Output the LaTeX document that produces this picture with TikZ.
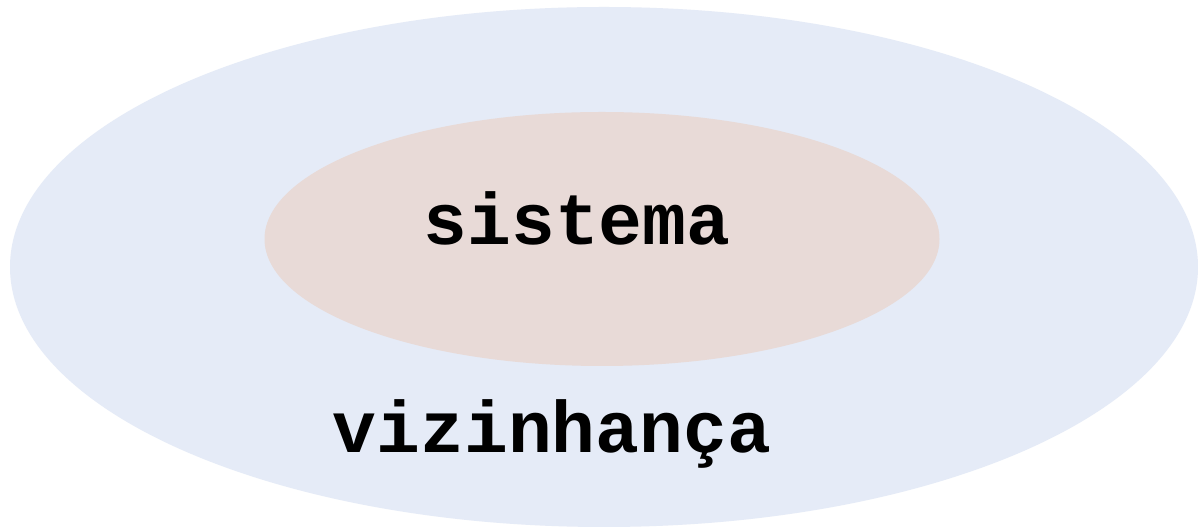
\documentclass[tikz,border=0pt]{standalone}
\usepackage{fontspec}
\newfontfamily\monob{Liberation Mono}
\definecolor{outerblue}{HTML}{E5EBF7}
\definecolor{innerrose}{HTML}{E8DAD7}
\begin{document}
\begin{tikzpicture}[x=1pt,y=1pt,
  lbl/.style={anchor=base,inner sep=0pt,font=\monob\bfseries\fontsize{73}{73}\selectfont}]
\useasboundingbox (0,0) rectangle (1198,529);
\clip (0,0) rectangle (1198,529);
\fill[white] (0,0) rectangle (1198,529);
\fill[outerblue] (604,262) ellipse [x radius=594, y radius=260];
\fill[innerrose] (602,290) ellipse [x radius=337.5, y radius=127];
\node[lbl] (sis) at (577,284) {sistema};
\node[lbl] (viz) at (552,76) {vizinhança};
\end{tikzpicture}
\end{document}
